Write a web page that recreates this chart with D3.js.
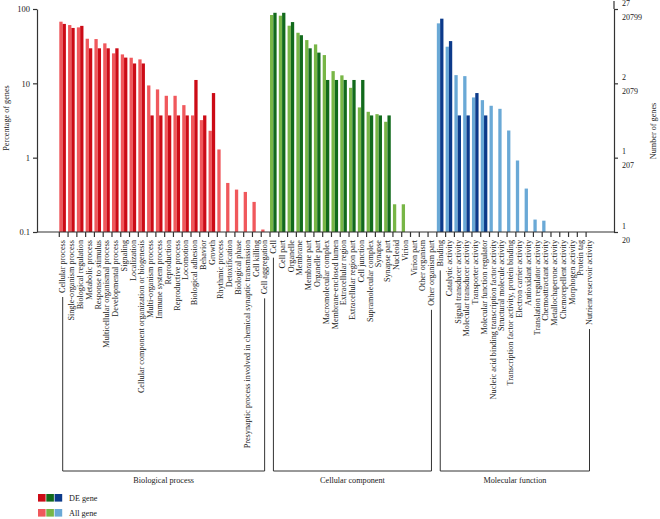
<!DOCTYPE html>
<html><head><meta charset="utf-8">
<script src="https://cdn.jsdelivr.net/npm/d3@7"></script>
<style>
body{margin:0;background:#fff}
svg{display:block}
text{font-family:"Liberation Serif","Times New Roman",serif;fill:#1a1a1a}
</style>
</head><body>
<svg id="chart" width="660" height="519"></svg>
<script>
// ---------- DATA ----------
const groupNames = ["Biological process","Cellular component","Molecular function"];

const bpCategories = ["Cellular process","Single-organism process","Biological regulation","Metabolic process","Response to stimulus","Multicellular organismal process","Developmental process","Signaling","Localization","Cellular component organization or biogenesis","Multi-organism process","Immune system process","Reproduction","Reproductive process","Locomotion","Biological adhesion","Behavior","Growth","Rhythmic process","Detoxification","Biological phase","Presynaptic process involved in chemical synaptic transmission","Cell killing","Cell aggregation"];
const bpAll = [67.5,60.8,56.6,39.8,39.4,34.5,25.3,24.5,22.1,21.0,9.37,8.28,6.8,6.8,5.09,3.7,3.2,2.3,1.29,0.457,0.372,0.346,0.254,0.108];
const bpDE  = [63.0,55.6,59.3,29.6,29.6,29.6,29.6,22.2,18.5,18.5,3.7,3.7,3.7,3.7,3.7,11.1,3.7,7.4,null,null,null,null,null,null];

const ccCategories = ["Cell","Cell part","Organelle","Membrane","Membrane part","Organelle part","Macromolecular complex","Membrane-enclosed lumen","Extracellular region","Extracellular region part","Cell junction","Supramolecular complex","Synapse","Synapse part","Nucleoid","Virion","Virion part","Other organism","Other organism part"];
const ccAll = [83.0,81.3,59.6,47.9,38.2,33.4,24.0,14.6,12.8,8.7,4.74,4.14,3.85,3.04,0.236,0.236,null,null,null];
const ccDE  = [88.9,88.9,66.7,44.4,29.6,25.9,11.1,11.1,11.1,11.1,11.1,3.7,3.7,3.7,null,null,null,null,null];

const mfCategories = ["Binding","Catalytic activity","Signal transducer activity","Molecular transducer activity","Transporter activity","Molecular function regulator","Nucleic acid binding transcription factor activity","Structural molecule activity","Transcription factor activity, protein binding","Electron carrier activity","Antioxidant activity","Translation regulator activity","Chemoattractant activity","Metallochaperone activity","Chemorepellent activity","Morphogen activity","Protein tag","Nutrient reservoir activity"];
const mfAll = [64.1,31.1,12.9,12.5,6.46,5.94,4.99,4.54,2.32,0.916,0.384,0.147,0.142,null,null,null,null,null];
const mfDE  = [74.1,37.0,3.7,3.7,7.4,3.7,null,null,null,null,null,null,null,null,null,null,null,null];

const yTickValues = [100,10,1,0.1];
const yTickLabels = ["100","10","1","0.1"];
const rightTickDE  = ["27","2","1","1"];
const rightTickAll = ["20799","2079","207","20"];

const deColors  = ["#cc0b16","#126a1c","#0c3a8a"];
const allColors = ["#f0585c","#78b646","#6aa9d6"];
const legendLabels = ["DE gene","All gene"];

// ---------- BUILD ----------
const groups = [
  {name:groupNames[0], cats:bpCategories, all:bpAll, de:bpDE},
  {name:groupNames[1], cats:ccCategories, all:ccAll, de:ccDE},
  {name:groupNames[2], cats:mfCategories, all:mfAll, de:mfDE}
];
const rows = [];
groups.forEach((g,gi)=>g.cats.forEach((c,i)=>rows.push({cat:c, g:gi, all:g.all[i], de:g.de[i]})));

const svg = d3.select("#chart");
const axisLeftX = 37, axisRightX = 614, baseY = 232, topY = 9;
const step = 8.78, firstTick = 59.3;
const textFill = "#1a1a1a";

const y = d3.scaleLog().domain([0.1,100]).range([baseY, topY]);
const x = d3.scaleBand().domain(rows.map(d=>d.cat))
  .range([firstTick - step/2, firstTick - step/2 + step*rows.length]);
const tickX = c => x(c) + x.bandwidth()/2;
const barW = 3.3;

// bars
const bars = svg.append("g");
bars.selectAll("rect.all").data(rows.filter(d=>d.all!=null)).join("rect")
  .attr("class","all")
  .attr("x", d=>tickX(d.cat)).attr("width", barW)
  .attr("y", d=>y(d.all)).attr("height", d=>baseY - y(d.all))
  .attr("fill", d=>allColors[d.g]);
bars.selectAll("rect.de").data(rows.filter(d=>d.de!=null)).join("rect")
  .attr("class","de")
  .attr("x", d=>tickX(d.cat)+barW).attr("width", barW)
  .attr("y", d=>y(d.de)).attr("height", d=>baseY - y(d.de))
  .attr("fill", d=>deColors[d.g]);

const axisColor = "#333";
function styleAxis(g){
  g.selectAll("path,line").attr("stroke", axisColor).attr("stroke-width",1.2);
  g.selectAll("text").attr("font-family",'"Liberation Serif",serif').attr("fill",textFill);
}

// left axis
const gl = svg.append("g").attr("transform",`translate(${axisLeftX},0)`)
  .call(d3.axisLeft(y).tickValues(yTickValues).tickFormat((d,i)=>yTickLabels[i]).tickSize(4).tickSizeOuter(0).tickPadding(3));
gl.selectAll("text").attr("font-size",8.5);
styleAxis(gl);

// right axis
const gr = svg.append("g").attr("transform",`translate(${axisRightX},0)`)
  .call(d3.axisRight(y).tickValues(yTickValues).tickFormat("").tickSize(4).tickSizeOuter(0));
styleAxis(gr);
svg.append("line").attr("x1",axisRightX).attr("x2",axisRightX).attr("y1",1).attr("y2",topY)
  .attr("stroke",axisColor).attr("stroke-width",1.2);
yTickValues.forEach((v,i)=>{
  svg.append("text").attr("x",axisRightX+8).attr("y",y(v)-3.5).attr("font-size",8).attr("fill",textFill).text(rightTickDE[i]);
  svg.append("text").attr("x",axisRightX+8).attr("y",y(v)+10.5).attr("font-size",8).attr("fill",textFill).text(rightTickAll[i]);
});

// bottom axis
const gb = svg.append("g").attr("transform",`translate(0,${baseY})`)
  .call(d3.axisBottom(x).tickFormat("").tickSize(5).tickSizeOuter(0));
gb.select(".domain").remove();
styleAxis(gb);
svg.append("line").attr("x1",axisLeftX).attr("x2",axisRightX).attr("y1",baseY).attr("y2",baseY)
  .attr("stroke",axisColor).attr("stroke-width",1.2);

// axis titles
svg.append("text").attr("transform",`translate(9,${118}) rotate(-90)`).attr("text-anchor","middle")
  .attr("font-size",8.2).attr("fill",textFill).text("Percentage of genes");
svg.append("text").attr("transform",`translate(656,${131}) rotate(-90)`).attr("text-anchor","middle")
  .attr("font-size",8.2).attr("fill",textFill).text("Number of genes");

// category labels
const labelTop = 240;
const labels = svg.append("g").selectAll("text").data(rows).join("text")
  .attr("transform", d=>`translate(${tickX(d.cat)+3.4},${labelTop}) rotate(-90)`)
  .attr("text-anchor","end").attr("dy","0.33em").attr("font-size",8.2).attr("fill",textFill)
  .text(d=>d.cat);
const lens = {};
labels.each(function(d){ lens[d.cat] = this.getComputedTextLength(); });

// brackets
const bracketY = 471;
groups.forEach((g,gi)=>{
  const first = g.cats[0], last = g.cats[g.cats.length-1];
  const x1 = tickX(first)+3.4, x2 = tickX(last)+3.4;
  const p = d3.path();
  p.moveTo(x1, labelTop + lens[first] + 4);
  p.lineTo(x1, bracketY);
  p.lineTo(x2, bracketY);
  p.lineTo(x2, labelTop + lens[last] + 4);
  svg.append("path").attr("d",p.toString()).attr("fill","none").attr("stroke",axisColor).attr("stroke-width",1);
  svg.append("text").attr("x",(x1+x2)/2).attr("y",bracketY+12).attr("text-anchor","middle")
    .attr("font-size",8.2).attr("fill",textFill).text(g.name);
});

// legend
const legY = [494, 509];
[deColors, allColors].forEach((cols,r)=>{
  cols.forEach((c,i)=>{
    svg.append("rect").attr("x",38+i*8.3).attr("y",legY[r]).attr("width",7.6).attr("height",7.6).attr("fill",c);
  });
  svg.append("text").attr("x",69).attr("y",legY[r]+6.5).attr("font-size",8.2).attr("fill",textFill).text(legendLabels[r]);
});
</script>
</body></html>
